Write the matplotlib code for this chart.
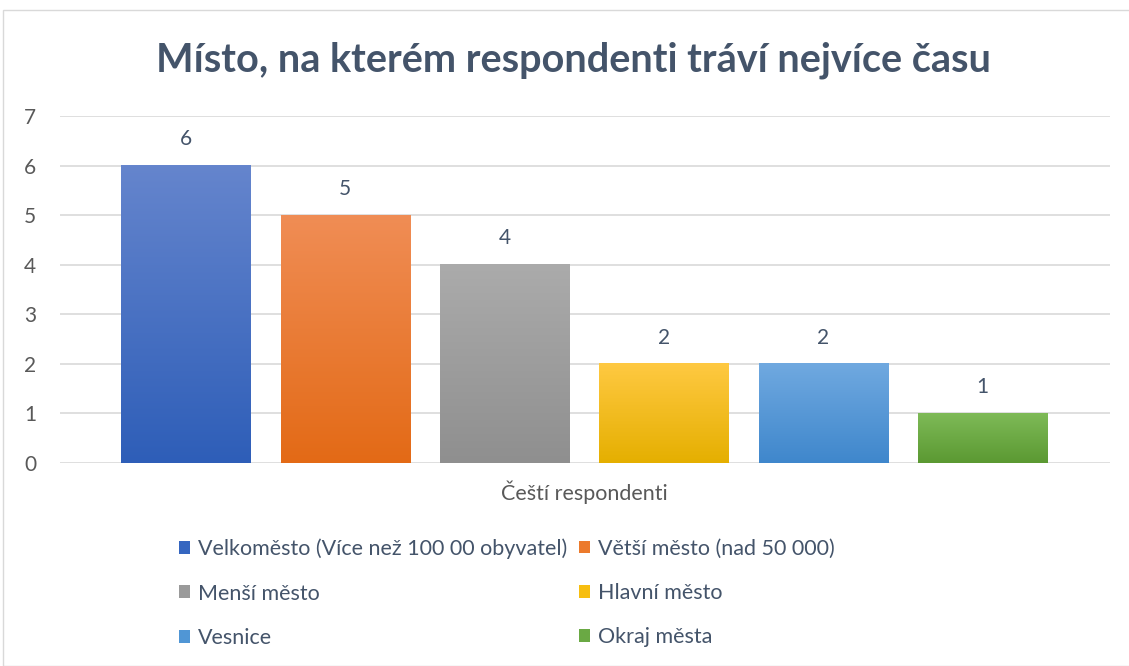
import numpy as np
import matplotlib.pyplot as plt
from matplotlib.colors import LinearSegmentedColormap
from matplotlib.patches import Rectangle, Patch

plt.rcParams['font.family'] = ['Lato', 'DejaVu Sans']

# data
categories = ["Velkoměsto (Více než 100 00 obyvatel)", "Větší město (nad 50 000)",
              "Menší město", "Hlavní město", "Vesnice", "Okraj města"]
values = [6, 5, 4, 2, 2, 1]
group_label = "Čeští respondenti"
title = "Místo, na kterém respondenti tráví nejvíce času"

# gradient colours (top, bottom)
tops = ["#6585CD", "#F08D55", "#ABABAB", "#FFC942", "#70A9E0", "#7EBA57"]
bottoms = ["#2E5EB8", "#E36A16", "#8F8F8F", "#E5AF00", "#3F87CC", "#5B9932"]
legend_cols = ["#3566C0", "#EC7A2C", "#9A9A9A", "#F7BE10", "#5096D5", "#6AA944"]

fig = plt.figure(figsize=(11.29, 6.66), dpi=100)
fig.patches.append(Rectangle((3 / 1129, 0), 1.2, 1 - 10 / 666, transform=fig.transFigure,
                             fill=False, edgecolor="#D9D9D9", linewidth=1))

ax = fig.add_axes([60 / 1129, 1 - 463 / 666, 1050 / 1129, 347 / 666])
x = np.arange(len(values))
bars = ax.bar(x, values, width=0.81, color=bottoms, zorder=2)
for b, t, bo in zip(bars, tops, bottoms):
    cmap = LinearSegmentedColormap.from_list("g", [bo, t])
    grad = np.linspace(0, 1, 256).reshape(-1, 1)
    ax.imshow(grad, cmap=cmap, origin="lower", aspect="auto", zorder=3,
              extent=[b.get_x(), b.get_x() + b.get_width(), 0, b.get_height()])
    ax.text(b.get_x() + b.get_width() / 2, b.get_height() + 0.53, str(int(b.get_height())),
            ha="center", va="center", fontsize=15, color="#44546A")

ax.set_xlim(-0.79, 5.8)
ax.set_ylim(0, 7)
ax.set_yticks(range(0, 8))
ax.yaxis.grid(True, color="#D9D9D9", linewidth=1.2, zorder=0)
ax.set_axisbelow(True)
ax.set_xticks([])
for s in ax.spines.values():
    s.set_visible(False)
ax.tick_params(axis="y", length=0, labelsize=15, labelcolor="#595959", pad=26)
for lbl in ax.get_yticklabels():
    lbl.set_horizontalalignment("left")
ax.text(2.5, -0.6, group_label, ha="center", va="center", fontsize=15.5, color="#595959")

fig.text(0.508, 1 - 60 / 666, title, ha="center", va="center", fontsize=28.5,
         fontweight="bold", color="#44546A")

handles = [Patch(facecolor=c, edgecolor="none") for c in legend_cols]
for start, x0 in [(0, 170 / 1129), (1, 570 / 1129)]:
    fig.legend(handles[start::2], categories[start::2], ncol=1, loc="upper left",
               bbox_to_anchor=(x0, 1 - 530 / 666), frameon=False,
               fontsize=15.5, handlelength=0.55, handleheight=0.55, handletextpad=0.35,
               labelspacing=1.13, labelcolor="#44546A", borderaxespad=0)

fig.savefig("out.png", dpi=100)
